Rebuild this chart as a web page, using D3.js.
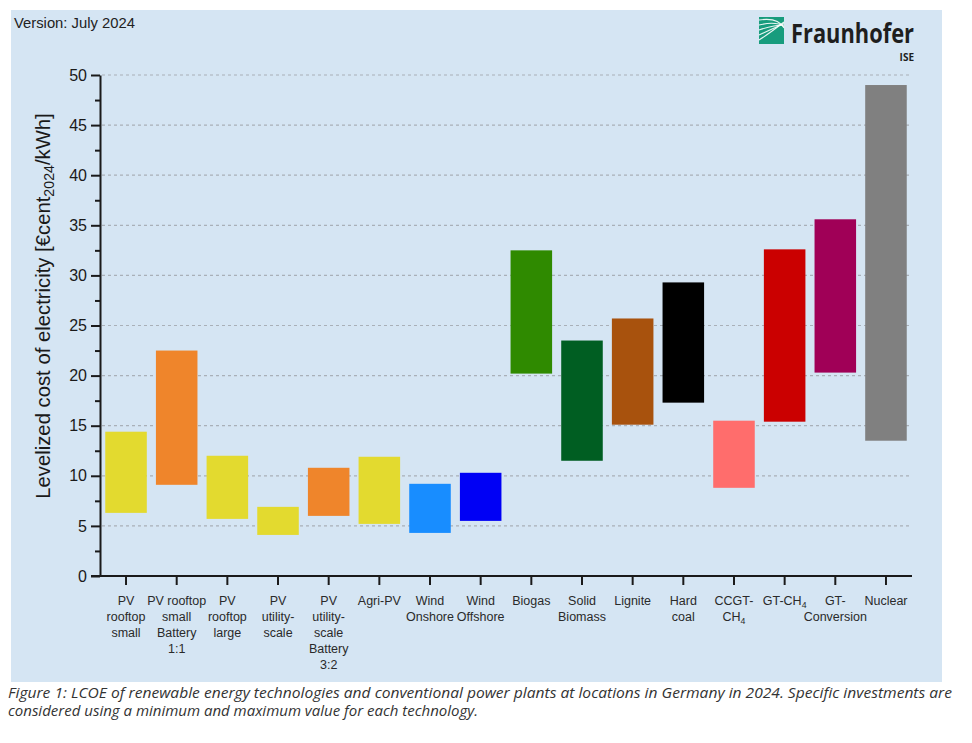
<!DOCTYPE html>
<html><head><meta charset="utf-8">
<script src="https://cdn.jsdelivr.net/npm/d3@7"></script>
<style>
body{margin:0;background:#fff;}
svg{display:block;font-family:"Liberation Sans",Arial,sans-serif;}
</style>
</head><body>
<svg id="c" width="972" height="743"></svg>
<script>
const categories = ["PV rooftop small","PV rooftop small Battery 1:1","PV rooftop large","PV utility-scale","PV utility-scale Battery 3:2","Agri-PV","Wind Onshore","Wind Offshore","Biogas","Solid Biomass","Lignite","Hard coal","CCGT-CH4","GT-CH4","GT-Conversion","Nuclear"];
const labelLines = [["PV","rooftop","small"],["PV rooftop","small","Battery","1:1"],["PV","rooftop","large"],["PV","utility-","scale"],["PV","utility-","scale","Battery","3:2"],["Agri-PV"],["Wind","Onshore"],["Wind","Offshore"],["Biogas"],["Solid","Biomass"],["Lignite"],["Hard","coal"],["CCGT-","CH_4"],["GT-CH_4"],["GT-","Conversion"],["Nuclear"]];
const minValues = [6.3, 9.1, 5.7, 4.1, 6.0, 5.2, 4.3, 5.5, 20.2, 11.5, 15.1, 17.3, 8.8, 15.4, 20.3, 13.5];
const maxValues = [14.4, 22.5, 12.0, 6.9, 10.8, 11.9, 9.2, 10.3, 32.5, 23.5, 25.7, 29.3, 15.5, 32.6, 35.6, 49.0];
const colors = ["#e3da2f","#ef852b","#e3da2f","#e3da2f","#ef852b","#e3da2f","#188dff","#0000f5","#2f8a00","#005e22","#a8520d","#000000","#ff6d6c","#cb0000","#a00057","#808080"];
const yTicks = [0,5,10,15,20,25,30,35,40,45,50];
const yMinorTicks = [2.5,7.5,12.5,17.5,22.5,27.5,32.5,37.5,42.5,47.5];

const svg = d3.select("#c");

// panel background
svg.append("rect").attr("x",11).attr("y",10).attr("width",931).attr("height",672).attr("fill","#d5e5f3");

const x = d3.scaleBand().domain(categories).range([100.7, 911.3]).paddingInner(0.18).paddingOuter(0.09);
const y = d3.scaleLinear().domain([0,50]).range([576,75]);

// grid
svg.append("g").selectAll("line").data(yTicks.filter(d=>d>0)).join("line")
  .attr("x1",102).attr("x2",912).attr("y1",d=>y(d)).attr("y2",d=>y(d))
  .attr("stroke","#a9b0b8").attr("stroke-width",1.2).attr("stroke-dasharray","3,3");

// bars
svg.append("g").selectAll("rect").data(categories).join("rect")
  .attr("x",d=>x(d)).attr("width",x.bandwidth())
  .attr("y",(d,i)=>y(maxValues[i])).attr("height",(d,i)=>y(minValues[i])-y(maxValues[i]))
  .attr("fill",(d,i)=>colors[i]);

// y axis
const yAxis = svg.append("g").attr("transform","translate(100,0)")
  .call(d3.axisLeft(y).tickValues(yTicks).tickSize(9).tickSizeOuter(0).tickPadding(4));
yAxis.select(".domain").attr("stroke","#1a1a1a").attr("stroke-width",2);
yAxis.selectAll(".tick line").attr("stroke","#1a1a1a").attr("stroke-width",2);
yAxis.selectAll(".tick text").attr("font-size",16).attr("fill","#1a1a1a").attr("font-family","Liberation Sans, Arial, sans-serif");
const yMinor = svg.append("g").attr("transform","translate(100,0)")
  .call(d3.axisLeft(y).tickValues(yMinorTicks).tickSize(5).tickSizeOuter(0).tickFormat(""));
yMinor.select(".domain").remove();
yMinor.selectAll(".tick line").attr("stroke","#1a1a1a").attr("stroke-width",2);

// x axis
const xAxis = svg.append("g").attr("transform","translate(0,576)")
  .call(d3.axisBottom(x).tickSize(9).tickSizeOuter(0).tickFormat(""));
xAxis.select(".domain").attr("d","M91,0H912").attr("stroke","#1a1a1a").attr("stroke-width",2);
xAxis.selectAll(".tick line").attr("stroke","#1a1a1a").attr("stroke-width",2);

function addSubText(sel, str){
  const parts = str.split("_");
  sel.append("tspan").text(parts[0]);
  if(parts.length>1){
    sel.append("tspan").attr("font-size","0.7em").attr("dy","0.3em").text(parts[1]);
  }
}

// x labels
const xl = svg.append("g").attr("font-size",12.5).attr("fill","#2a2a2a").attr("text-anchor","middle");
categories.forEach((c,i)=>{
  const cx = x(c)+x.bandwidth()/2;
  labelLines[i].forEach((ln,j)=>{
    const t = xl.append("text").attr("x",cx).attr("y",605+j*16);
    addSubText(t, ln);
  });
});

// y title
const yt = svg.append("text").attr("transform","translate(50,306) rotate(-90)")
  .attr("text-anchor","middle").attr("font-size",20.3).attr("fill","#1a1a1a");
yt.append("tspan").text("Levelized cost of electricity [€cent");
yt.append("tspan").attr("font-size","0.7em").attr("dy","0.3em").text("2024");
yt.append("tspan").attr("dy","-0.21em").text("/kWh]");

// version
svg.append("text").attr("x",14).attr("y",28).attr("font-size",14.8).attr("fill","#222").text("Version: July 2024");

// logo
const lg = svg.append("g");
lg.append("rect").attr("x",759).attr("y",17).attr("width",25).attr("height",27).attr("fill","#179c7d");
[0,1,2,3,4].forEach(k=>{
  lg.append("path").attr("d",`M759,${40-k*5} Q${770+k*2},${33-k*4} 784,${22+k*1.5}`)
    .attr("fill","none").attr("stroke","#fff").attr("stroke-width",1.1).attr("opacity",0.9);
});
lg.append("text").attr("x",791).attr("y",43).attr("font-size",26).attr("font-weight","bold")
  .attr("fill","#1e1e1e").attr("font-family","Open Sans, Liberation Sans, sans-serif").attr("textLength",123).attr("lengthAdjust","spacingAndGlyphs").text("Fraunhofer");
lg.append("text").attr("x",914).attr("y",61).attr("font-size",10).attr("font-weight","bold").attr("text-anchor","end")
  .attr("fill","#1e1e1e").attr("font-family","Open Sans, Liberation Sans, sans-serif").text("ISE");

// caption
const cap = svg.append("g").attr("font-size",14).attr("font-style","italic").attr("fill","#333")
  .attr("font-family","Open Sans, Noto Sans, sans-serif");
cap.append("text").attr("x",8).attr("y",698).attr("textLength",944).attr("lengthAdjust","spacingAndGlyphs")
  .text("Figure 1:  LCOE of renewable energy technologies and conventional power plants at locations in Germany in 2024. Specific investments are");
cap.append("text").attr("x",8).attr("y",716).attr("textLength",470).attr("lengthAdjust","spacingAndGlyphs")
  .text("considered using a minimum and maximum value for each technology.");
</script>
</body></html>
